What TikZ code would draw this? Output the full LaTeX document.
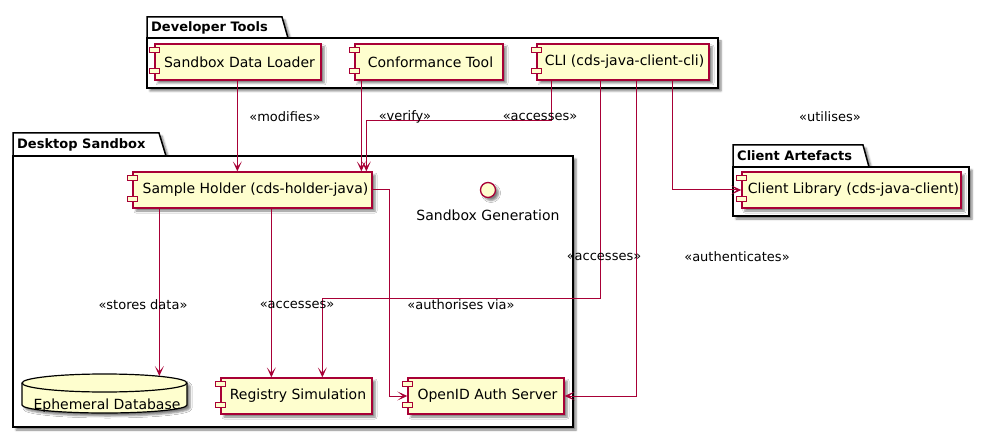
\documentclass[tikz,border=0pt]{standalone}
\usepackage{fontspec}
\setmainfont{DejaVu Sans}
\usetikzlibrary{arrows.meta}
\usetikzlibrary{calc, shadows.blur}
\definecolor{rahmen}{RGB}{168,0,54}
\definecolor{creme}{RGB}{254,254,206}

% die zwei kleinen Kaestchen links an einer Komponente
\newcommand{\compicon}[1]{%
  \draw[icon] ([xshift=-5pt,yshift=-4pt]#1.north west) rectangle ++(10,5);
  \draw[icon] ([xshift=-5pt,yshift=12pt]#1.south west) rectangle ++(10,5);
}

\begin{document}
\begin{tikzpicture}[x=1pt, y=-1pt,
    schatten/.style={blur shadow={shadow xshift=3pt, shadow yshift=-3pt, shadow blur radius=2pt, shadow opacity=50}},
    pkg/.style={draw=black, fill=white, line width=1.5pt, schatten},
    pkgtitle/.style={anchor=west, inner sep=0pt, font=\fontsize{13}{15}\selectfont\bfseries},
    comp/.style={draw=rahmen, fill=creme, line width=1.3pt, minimum height=36pt, inner xsep=2pt, font=\fontsize{14}{16}\selectfont, schatten},
    icon/.style={draw=rahmen, fill=creme, line width=1.2pt},
    lbl/.style={inner sep=1pt, font=\fontsize{13}{15}\selectfont},
    conn/.style={draw=rahmen, line width=1pt, -{Stealth[length=10pt, width=9pt, inset=5.5pt]}}]

    \useasboundingbox (0,0) rectangle (990,438);

    % Pakete
    \draw[pkg] (147,38) -- (147,17) -- (282,17) -- (288,38) -- cycle;
    \draw[pkg] (147,38) rectangle (718,88);
    \node[pkgtitle] (devtools) at (151,27.5) {Developer Tools};

    \draw[pkg] (13,156) -- (13,133) -- (159,133) -- (166,156) -- cycle;
    \draw[pkg] (13,156) rectangle (573,427);
    \node[pkgtitle] (desktop) at (17,144.5) {Desktop Sandbox};

    \draw[pkg] (733,167) -- (733,145) -- (863,145) -- (869,167) -- cycle;
    \draw[pkg] (733,167) rectangle (969,216);
    \node[pkgtitle] (artefacts) at (737,156) {Client Artefacts};

    % Komponenten
    \node[comp, minimum width=166pt] (loader) at (238,62) {\hspace{3pt}Sandbox Data Loader};
    \node[comp, minimum width=148pt] (conf) at (429,62) {\hspace{3pt}Conformance Tool};
    \node[comp, minimum width=172pt] (cli) at (623,62) {\hspace{3pt}CLI (cds-java-client-cli)};
    \node[comp, minimum width=239pt] (holder) at (252.5,190) {\hspace{6pt}Sample Holder (cds-holder-java)};
    \node[comp, minimum width=151pt] (reg) at (296.5,396) {\hspace{3pt}Registry Simulation};
    \node[comp, minimum width=156pt] (openid) at (486,396) {\hspace{3pt}OpenID Auth Server};
    \node[comp, minimum width=219pt] (client) at (851.5,190) {\hspace{4pt}Client Library (cds-java-client)};
    \compicon{loader}
    \compicon{conf}
    \compicon{cli}
    \compicon{holder}
    \compicon{reg}
    \compicon{openid}
    \compicon{client}

    \node[circle, draw=rahmen, fill=creme, line width=1.3pt, minimum size=15pt, inner sep=0pt, schatten] (gen) at (488,190) {};
    \node[lbl, font=\fontsize{14}{16}\selectfont] (genname) at (488,215) {Sandbox Generation};

    % Datenbank
    \draw[draw=black, fill=creme, line width=1.2pt, schatten] (22,383) -- (22,405)
        arc[start angle=180, end angle=360, x radius=82.5pt, y radius=8pt] -- (187,383)
        arc[start angle=0, end angle=180, x radius=82.5pt, y radius=9pt] -- cycle;
    \draw[line width=1.2pt] (22,383) arc[start angle=180, end angle=360, x radius=82.5pt, y radius=9pt];
    \node[lbl, font=\fontsize{14}{16}\selectfont] (db) at (107,406) {Ephemeral Database};
    \coordinate (dbtop) at (160,376);

    % Verbindungen
    \draw[conn] ([xshift=83pt]loader.south west) -- ([xshift=105pt]holder.north west);
    \draw[conn] ([xshift=7pt]conf.south west) -- ([xshift=229pt]holder.north west);
    \draw[conn] ([xshift=15pt]cli.south west) -- ++(0,40) -| ([xshift=234pt]holder.north west);
    \draw[conn] ([xshift=64pt]cli.south west) -- ++(0,218) -| ([xshift=102pt]reg.north west);
    \draw[conn] ([xshift=100pt]cli.south west) |- (openid.east);
    \draw[conn] ([xshift=136pt]cli.south west) |- (client.west);
    \draw[conn] ([xshift=27pt]holder.south west) coordinate (h1) -- (h1 |- dbtop);
    \draw[conn] ([xshift=139pt]holder.south west) -- ([xshift=51pt]reg.north west);
    \draw[conn] (holder.east) -- ++(17,0) |- (openid.west);

    \node[lbl] (lmodifies) at (285,117) {«modifies»};
    \node[lbl] (lverify) at (405,117) {«verify»};
    \node[lbl] (laccesses) at (540,117) {«accesses»};
    \node[lbl] (lutilises) at (830,117) {«utilises»};
    \node[lbl] (laccesses2) at (604,257) {«accesses»};
    \node[lbl] (lauth) at (737,257) {«authenticates»};
    \node[lbl] (lstores) at (143,305) {«stores data»};
    \node[lbl] (laccesses3) at (297,305) {«accesses»};
    \node[lbl] (lauthorises) at (461,305) {«authorises via»};

\end{tikzpicture}
\end{document}
